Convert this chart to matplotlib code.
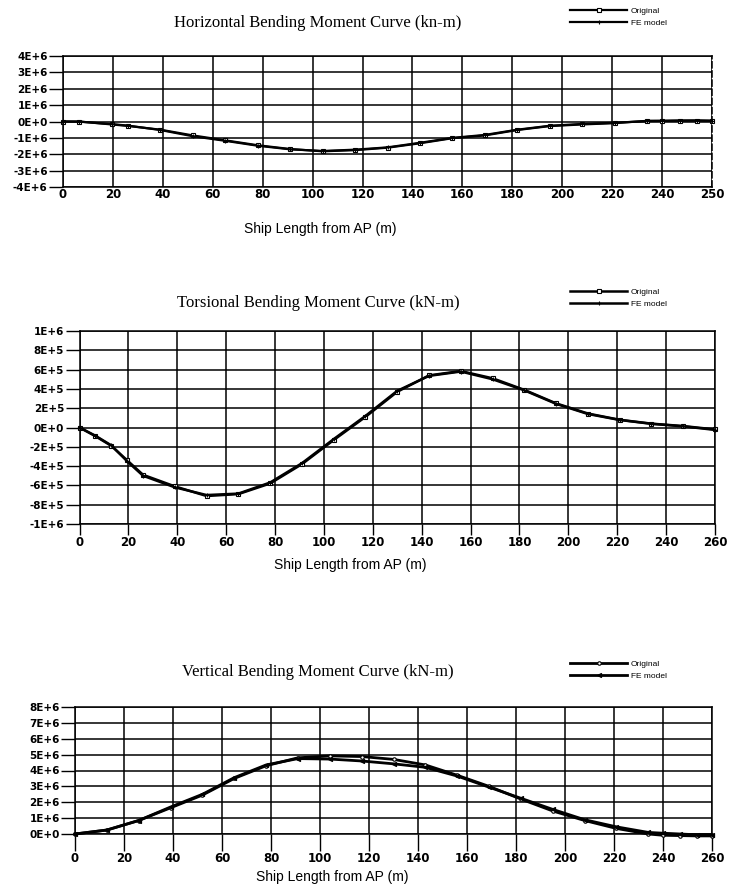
import numpy as np
import matplotlib.pyplot as plt

# stations along the ship (m)
x_h = [0, 6.5, 19.5, 26, 39, 52, 65, 78, 91, 104, 117, 130, 143, 156, 169, 182, 195, 208, 221, 234, 240, 247, 254, 260]
h_orig = [0, 0, -0.18e6, -0.27e6, -0.5e6, -0.85e6, -1.15e6, -1.45e6, -1.68e6, -1.82e6, -1.75e6, -1.6e6,
          -1.33e6, -1.02e6, -0.85e6, -0.52e6, -0.28e6, -0.18e6, -0.1e6, 0.04e6, 0.04e6, 0.06e6, 0.06e6, 0.04e6]
h_fe = [0, -0.01e6, -0.16e6, -0.25e6, -0.52e6, -0.9e6, -1.18e6, -1.48e6, -1.7e6, -1.8e6, -1.72e6, -1.58e6,
        -1.3e6, -1.0e6, -0.82e6, -0.5e6, -0.26e6, -0.15e6, -0.08e6, 0.03e6, 0.04e6, 0.05e6, 0.06e6, 0.05e6]

x_t = [0, 6.5, 13, 19.5, 26, 39, 52, 65, 78, 91, 104, 117, 130, 143, 156, 169, 182, 195, 208, 221, 234, 247, 260]
t_orig = [0, -0.9e5, -1.9e5, -3.4e5, -4.9e5, -6.1e5, -7.1e5, -6.9e5, -5.8e5, -3.8e5, -1.3e5, 1.1e5,
          3.7e5, 5.4e5, 5.85e5, 5.1e5, 3.9e5, 2.5e5, 1.45e5, 0.8e5, 0.4e5, 0.15e5, -0.2e5]
t_fe = [0, -0.85e5, -1.85e5, -3.5e5, -5.0e5, -6.2e5, -7.0e5, -6.85e5, -5.7e5, -3.7e5, -1.2e5, 1.2e5,
        3.8e5, 5.35e5, 5.8e5, 5.0e5, 3.85e5, 2.45e5, 1.4e5, 0.78e5, 0.38e5, 0.12e5, -0.25e5]

x_v = [0, 13, 26, 39, 52, 65, 78, 91, 104, 117, 130, 143, 156, 169, 182, 195, 208, 221, 234, 240, 247, 254, 260]
v_orig = [0, 0.25e6, 0.85e6, 1.65e6, 2.45e6, 3.5e6, 4.3e6, 4.8e6, 4.92e6, 4.88e6, 4.7e6, 4.35e6,
          3.7e6, 3.0e6, 2.2e6, 1.45e6, 0.85e6, 0.35e6, 0.0, -0.08e6, -0.1e6, -0.12e6, -0.12e6]
v_fe = [0, 0.25e6, 0.85e6, 1.7e6, 2.5e6, 3.55e6, 4.35e6, 4.75e6, 4.72e6, 4.6e6, 4.42e6, 4.2e6,
        3.65e6, 2.95e6, 2.25e6, 1.55e6, 0.9e6, 0.45e6, 0.1e6, 0.05e6, 0.0, -0.05e6, -0.05e6]

x_ticks = list(range(0, 261, 20))
x_labels_h = [str(v) for v in range(0, 241, 20)] + ['250']
x_labels = [str(v) for v in x_ticks]

y_ticks_h = [-4e6, -3e6, -2e6, -1e6, 0, 1e6, 2e6, 3e6, 4e6]
y_labels_h = ['-4E+6', '-3E+6', '-2E+6', '-1E+6', '0E+0', '1E+6', '2E+6', '3E+6', '4E+6']
y_ticks_t = [-1e6, -8e5, -6e5, -4e5, -2e5, 0, 2e5, 4e5, 6e5, 8e5, 1e6]
y_labels_t = ['-1E+6', '-8E+5', '-6E+5', '-4E+5', '-2E+5', '0E+0', '2E+5', '4E+5', '6E+5', '8E+5', '1E+6']
y_ticks_v = [0, 1e6, 2e6, 3e6, 4e6, 5e6, 6e6, 7e6, 8e6]
y_labels_v = ['0E+0', '1E+6', '2E+6', '3E+6', '4E+6', '5E+6', '6E+6', '7E+6', '8E+6']

W, H = 731, 889
fig = plt.figure(figsize=(W / 100, H / 100), dpi=100)


def rect(left, right, top, bottom):
    return [left / W, 1 - bottom / H, (right - left) / W, (bottom - top) / H]


def panel(r, x, orig, fe, yticks, ylabels, xlabels, title, title_y, xlabel_x, xlabel_y, leg_y,
          m_orig, m_fe, xtick_len, lw):
    ax = fig.add_axes(r)
    ax.plot(x, orig, color='black', lw=lw, marker=m_orig, ms=2.5, mfc='white', mew=0.8,
            label='Original', clip_on=False)
    ax.plot(x, fe, color='black', lw=lw, marker=m_fe, ms=3, mew=0.8,
            label='FE model', clip_on=False)
    ax.set_xlim(0, 260)
    ax.set_ylim(yticks[0], yticks[-1])
    ax.set_xticks(x_ticks)
    ax.set_xticklabels(xlabels, fontsize=8.5, fontweight='bold', family='DejaVu Sans')
    ax.set_yticks(yticks)
    ax.set_yticklabels(ylabels, fontsize=7.5, fontweight='bold', family='DejaVu Sans')
    ax.tick_params(axis='y', length=10, width=1, pad=1)
    ax.tick_params(axis='x', length=xtick_len, width=1, pad=1)
    ax.grid(True, color='black', lw=1.1)
    for s in ax.spines.values():
        s.set_linewidth(1.1)
    fig.text(318 / W, 1 - title_y / H, title, ha='center', va='center',
             family='Liberation Serif', fontsize=12)
    fig.text(xlabel_x / W, 1 - xlabel_y / H, 'Ship Length from AP (m)', ha='center', va='center',
             family='Liberation Sans', fontsize=10)
    ax.legend(loc='center left', bbox_to_anchor=(566 / W, 1 - leg_y / H),
              bbox_transform=fig.transFigure, frameon=False,
              handlelength=6.8, labelspacing=0.45, handletextpad=0.5, borderpad=0,
              prop={'family': 'Liberation Sans', 'size': 6})
    return ax


ax1 = panel(rect(63, 712, 56, 187), x_h, h_orig, h_fe, y_ticks_h, y_labels_h, x_labels_h,
            'Horizontal Bending Moment Curve (kn-m)', 23, 320, 229, 17, 's', '+', 0, 1.6)
ax1.spines['right'].set_linestyle((0, (4, 2)))
panel(rect(79.5, 715, 331, 524), x_t, t_orig, t_fe, y_ticks_t, y_labels_t, x_labels,
      'Torsional Bending Moment Curve (kN-m)', 303, 350, 565, 298, 's', '+', 8, 1.8)
panel(rect(75, 712, 707, 834), x_v, v_orig, v_fe, y_ticks_v, y_labels_v, x_labels,
      'Vertical Bending Moment Curve (kN-m)', 672, 332, 877, 670, 'o', '<', 12, 2.0)

fig.savefig('out.png', dpi=100)
